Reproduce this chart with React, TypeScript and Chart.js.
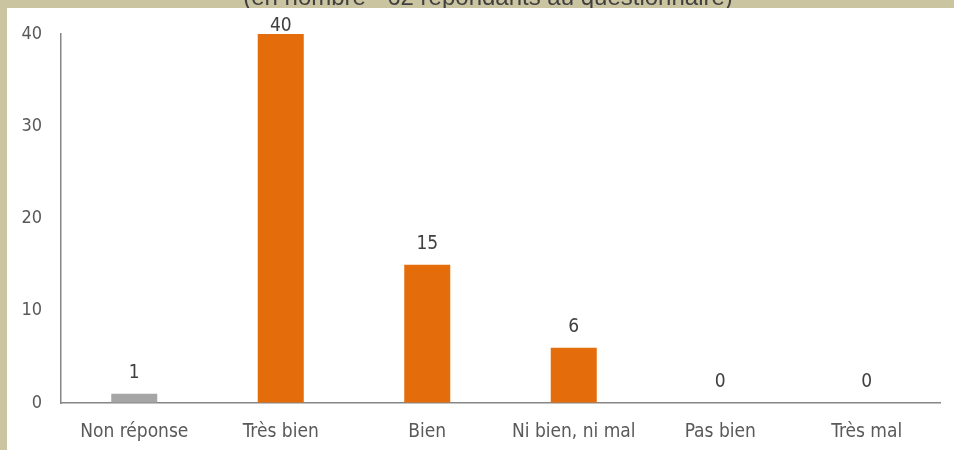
import React, { useEffect, useRef } from "react";
import { Chart, registerables } from "chart.js";

Chart.register(...registerables);

const TITLE = "(en nombre - 62 répondants au questionnaire)";
const categories = ["Non réponse", "Très bien", "Bien", "Ni bien, ni mal", "Pas bien", "Très mal"];
const values = [1, 40, 15, 6, 0, 0];
const barColors = ["#A5A5A5", "#E46C0A", "#E46C0A", "#E46C0A", "#E46C0A", "#E46C0A"];
const yTicks = [0, 10, 20, 30, 40];

const FONT = "'DejaVu Sans Condensed', 'Liberation Sans Narrow', 'Liberation Sans', sans-serif";
const BEIGE = "#CBC4A1";

const framePlugin = {
  id: "frame",
  beforeDraw(chart: any) {
    const ctx = chart.ctx;
    const w = chart.width;
    const h = chart.height;
    ctx.save();
    ctx.fillStyle = BEIGE;
    ctx.fillRect(0, 0, w, h);
    ctx.fillStyle = "#FFFFFF";
    ctx.fillRect(7, 8, w - 7, h - 8);
    // title, mostly outside the top of the picture, clipped by the white panel
    ctx.beginPath();
    ctx.rect(0, 0, w, 8);
    ctx.clip();
    ctx.font = "24px 'Liberation Sans', Arial, sans-serif";
    ctx.fillStyle = "#404040";
    ctx.textAlign = "center";
    ctx.textBaseline = "alphabetic";
    ctx.fillText(TITLE, 488, 5);
    ctx.restore();
  },
};

const labelPlugin = {
  id: "barLabels",
  afterDatasetsDraw(chart: any) {
    const ctx = chart.ctx;
    const meta = chart.getDatasetMeta(0);
    ctx.save();
    ctx.font = `19px ${FONT}`;
    ctx.fillStyle = "#404040";
    ctx.textAlign = "center";
    ctx.textBaseline = "middle";
    meta.data.forEach((bar: any, i: number) => {
      const y = Math.max(bar.y - 21, chart.chartArea.top - 8);
      ctx.fillText(String(values[i]), bar.x, y);
    });
    ctx.restore();
  },
};

export default function App() {
  const ref = useRef<HTMLCanvasElement>(null);
  useEffect(() => {
    if (!ref.current) return;
    const chart = new Chart(ref.current, {
      type: "bar",
      data: {
        labels: categories,
        datasets: [
          {
            data: values,
            backgroundColor: barColors,
            borderWidth: 0,
            categoryPercentage: 1,
            barPercentage: 0.314,
          },
        ],
      },
      options: {
        animation: false,
        responsive: false,
        maintainAspectRatio: false,
        devicePixelRatio: 1,
        layout: { padding: { left: 7, right: 14, top: 34, bottom: 0 } },
        plugins: { legend: { display: false }, tooltip: { enabled: false }, title: { display: false } },
        scales: {
          x: {
            grid: { drawOnChartArea: false, drawTicks: false, color: "rgba(0,0,0,0)" },
            border: { display: true, color: "#868686", width: 1.5 },
            ticks: { color: "#595959", font: { family: FONT, size: 19 }, padding: 18 },
            afterFit: (s: any) => { s.height = 47; },
          },
          y: {
            min: 0,
            max: 40,
            afterBuildTicks: (s: any) => { s.ticks = yTicks.map((v) => ({ value: v })); },
            grid: { drawOnChartArea: false, drawTicks: false, color: "rgba(0,0,0,0)" },
            border: { display: true, color: "#868686", width: 1.5 },
            ticks: { color: "#595959", font: { family: FONT, size: 18 }, padding: 19 },
            afterFit: (s: any) => { s.width = 54; },
          },
        },
      },
      plugins: [framePlugin, labelPlugin],
    });
    return () => chart.destroy();
  }, []);

  return (
    <div style={{ position: "fixed", left: 0, top: 0, width: 954, height: 450, overflow: "hidden" }}>
      <canvas ref={ref} width={954} height={450} style={{ display: "block", width: 954, height: 450 }} />
    </div>
  );
}
